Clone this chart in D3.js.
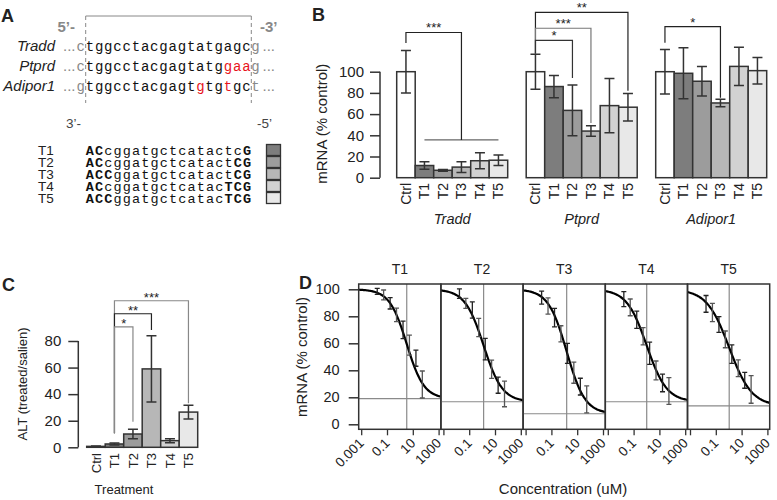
<!DOCTYPE html>
<html><head><meta charset="utf-8">
<script src="https://cdn.jsdelivr.net/npm/d3@7"></script>
<style>
body{margin:0;background:#fff}
text{font-family:"Liberation Sans",Arial,sans-serif;fill:#222}
.mono{font-family:"Liberation Mono","Courier New",monospace}
</style>
</head><body>
<svg id="c" width="777" height="500"></svg>
<script>
// ---------------- DATA ----------------
// Panel A
const seqGenes = ["Tradd", "Ptprd", "Adipor1"];
const seqLeft = ["c", "c", "g"];
const seqRight = ["g", "g", "t"];
const seqCore = [
  [["tggcctacgagtatgagc", 0]],
  [["tggcctacgagtatg", 0], ["gaa", 1]],
  [["tggcctacgagt", 0], ["g", 1], ["tg", 0], ["t", 1], ["gc", 0]]
];
const oligoNames = ["T1", "T2", "T3", "T4", "T5"];
const oligoSeq = [
  [["AC", 1], ["cggatgctcatactc", 0], ["G", 1]],
  [["AC", 1], ["cggatgctcatact", 0], ["CG", 1]],
  [["ACC", 1], ["ggatgctcatact", 0], ["CG", 1]],
  [["AC", 1], ["cggatgctcatac", 0], ["TCG", 1]],
  [["ACC", 1], ["ggatgctcatac", 0], ["TCG", 1]]
];
// Panel B
const genes = ["Tradd", "Ptprd", "Adipor1"];
const groups = ["Ctrl", "T1", "T2", "T3", "T4", "T5"];
const groupFill = ["#ffffff", "#7d7d7d", "#9c9c9c", "#b7b7b7", "#d2d2d2", "#e8e8e8"];
const traddMean = [100, 11.5, 7, 10, 16, 16.5];
const traddErr = [20, 3.5, 0.8, 5, 7.5, 5];
const ptprdMean = [100, 86, 63.5, 44, 68, 66.5];
const ptprdErr = [16.5, 10.5, 24, 5, 25.5, 13];
const adiporMean = [100, 98.5, 91, 70.5, 105, 101];
const adiporErr = [21, 24, 14, 3.5, 18, 12.5];
const bTicks = [0, 20, 40, 60, 80, 100];
// brackets: gene, from, to, level, fromEnd, toEnd, label, colour
const bBrackets = [
  ["Tradd", "Ctrl", "T3", 137, 127, 35.6, "***", "#222"],
  ["Ptprd", "Ctrl", "T5", 156, 117, 82, "**", "#222"],
  ["Ptprd", "Ctrl", "T3", 141, 117, 51.6, "***", "#777"],
  ["Ptprd", "Ctrl", "T2", 129.6, 117, 94, "*", "#333"],
  ["Adipor1", "Ctrl", "T3", 142.5, 127.4, 75.5, "*", "#222"]
];
const traddLine = ["T1", "T5", 35.6];
// Panel C
const altMean = [0.7, 2.5, 10, 59, 5, 26.5];
const altErr = [0.3, 0.7, 3.5, 25, 1.5, 5.2];
const cTicks = [0, 20, 40, 60, 80];
const cBrackets = [
  ["T1", "T5", 110.3, 10.5, 33.1, "***", "#888"],
  ["T1", "T3", 100.5, 10.5, 88.3, "**", "#222"],
  ["T1", "T2", 90.7, 10.5, 19.3, "*", "#888"]
];
// Panel D
const treatments = ["T1", "T2", "T3", "T4", "T5"];
const concentrations = [0.016, 0.05, 0.16, 0.5, 1.6, 5, 16, 50];
const t1Mean = [98.5, 95.8, 89.6, 81, 70, 58.7, 49, 29.5];
const t1Err = [2.2, 3.7, 4.2, 5, 6.5, 7.4, 6, 10];
const t2Mean = [96.8, 89.6, 84.7, 71.7, 55.7, 40.8, 29, 22.5];
const t2Err = [3.5, 3.7, 6, 6.8, 8, 6.8, 6, 9.5];
const t3Mean = [93.8, 87.6, 79, 67, 52.6, 38.2, 27.9, 18.5];
const t3Err = [4.8, 6, 6.8, 6, 7.4, 7.8, 6.2, 10];
const t4Mean = [92.7, 86.6, 77.5, 65.2, 52.6, 39.9, 30.6, 24.7];
const t4Err = [5.6, 6.2, 6.4, 6.4, 8.2, 7, 6.5, 9.9];
const t5Mean = [89.2, 82.8, 73.9, 62.9, 52, 41.5, 32.6, 25.8];
const t5Err = [6.2, 6.8, 5.8, 6.2, 6.8, 6.2, 5.9, 10.2];
const fitTop = [100, 100, 100, 100, 100];
const fitBottom = [19, 16.7, 7.8, 16.7, 13.6];
const fitIC50 = [3.1, 1.2, 1.4, 0.95, 1.0];
const fitHill = [0.65, 0.6, 0.61, 0.56, 0.5];
const dYTicks = [0, 20, 40, 60, 80, 100];
const dXTicks = [0.001, 0.1, 10, 1000];
const dXTickLabels = ["0.001", "0.1", "10", "1000"];

// ---------------- DRAW ----------------
const svg = d3.select("#c");
const ink = "#333";

function panelLetter(t, x, y) {
  svg.append("text").attr("x", x).attr("y", y).attr("font-size", 18)
    .attr("font-weight", "bold").text(t);
}

// ===== Panel A =====
panelLetter("A", 1, 22);
const A = svg.append("g");
const charW = 9.2;
const coreX = 85.7;
A.append("path").attr("d", `M${coreX},16H${coreX + 18 * charW}`).attr("stroke", "#888").attr("fill", "none");
[coreX, coreX + 18 * charW].forEach(x => A.append("line").attr("x1", x).attr("x2", x)
  .attr("y1", 16).attr("y2", 103).attr("stroke", "#888").attr("stroke-dasharray", "4,3"));
A.append("text").attr("x", 75).attr("y", 32).attr("text-anchor", "end").attr("font-size", 15)
  .attr("font-weight", "bold").style("fill", "#888").text("5’-");
A.append("text").attr("x", 260).attr("y", 32).attr("font-size", 15)
  .attr("font-weight", "bold").style("fill", "#888").text("-3’");
const rowY = d3.scalePoint().domain(seqGenes).range([50.5, 91]);
seqGenes.forEach((g, i) => {
  const y = rowY(g);
  A.append("text").attr("x", 55).attr("y", y).attr("text-anchor", "end").attr("font-size", 15)
    .attr("font-style", "italic").text(g);
  A.append("text").attr("x", coreX - charW - 1).attr("y", y).attr("text-anchor", "end")
    .attr("font-size", 15).style("fill", "#888").text("...");
  const t = A.append("text").attr("class", "mono").attr("x", coreX - charW).attr("y", y)
    .attr("font-size", 14).style("letter-spacing", "0.8px");
  t.append("tspan").style("fill", "#888").text(seqLeft[i]);
  seqCore[i].forEach(([s, red]) => t.append("tspan").style("fill", red ? "#e8141b" : "#111").text(s));
  t.append("tspan").style("fill", "#888").text(seqRight[i]);
  A.append("text").attr("x", coreX + 19 * charW + 2).attr("y", y)
    .attr("font-size", 15).style("fill", "#888").text("...");
});
A.append("text").attr("x", 66).attr("y", 128).attr("font-size", 13.5).style("fill", "#444").text("3’-");
A.append("text").attr("x", 257).attr("y", 128).attr("font-size", 13.5).style("fill", "#444").text("-5’");
const oligoY = d3.scalePoint().domain(oligoNames).range([150, 198]);
oligoNames.forEach((n, i) => {
  const y = oligoY(n);
  A.append("text").attr("x", 38).attr("y", y).attr("dy", "0.36em").attr("font-size", 13.5).text(n);
  const t = A.append("text").attr("class", "mono").attr("x", coreX).attr("y", y).attr("dy", "0.36em")
    .attr("font-size", 13.5).style("letter-spacing", "1.15px");
  oligoSeq[i].forEach(([s, b]) => t.append("tspan").attr("font-weight", b ? "bold" : "normal").style("fill", "#111").text(s));
  A.append("rect").attr("x", 266.5).attr("y", y - 5.5).attr("width", 14).attr("height", 11)
    .attr("fill", groupFill[i + 1]).attr("stroke", ink).attr("stroke-width", 1.3);
});

// ===== Panel B =====
panelLetter("B", 312, 21);
const B = svg.append("g");
const yB = d3.scaleLinear().domain([0, 100]).range([177.7, 71.7]);
const geneX = d3.scaleBand().domain(genes).range([396.7, 766.7]).paddingInner(18.5 / 129.5);
const barX = d3.scaleBand().domain(groups).range([0, geneX.bandwidth()]);
const bMeans = [traddMean, ptprdMean, adiporMean];
const bErrs = [traddErr, ptprdErr, adiporErr];
const cx = (g, c) => geneX(g) + barX(c) + barX.bandwidth() / 2;
const axB = B.append("g").attr("transform", "translate(380,0)")
  .call(d3.axisLeft(yB).tickValues(bTicks).tickSize(10).tickPadding(6));
axB.select(".domain").attr("d", `M0,${yB(100)}V${yB(0)}`).attr("stroke", ink).attr("stroke-width", 1.5);
axB.selectAll(".tick line").attr("stroke", ink).attr("stroke-width", 1.5);
axB.selectAll(".tick text").attr("font-size", 15).style("fill", "#222");
B.append("text").attr("transform", `translate(322,${(yB(100) + yB(0)) / 2 - 1}) rotate(-90)`)
  .attr("text-anchor", "middle").attr("dy", "0.35em").attr("font-size", 15).text("mRNA (% control)");
genes.forEach((g, gi) => {
  const gg = B.append("g");
  groups.forEach((c, ci) => {
    const m = bMeans[gi][ci], e = bErrs[gi][ci];
    gg.append("rect").attr("x", geneX(g) + barX(c)).attr("y", yB(m)).attr("width", barX.bandwidth())
      .attr("height", yB(0) - yB(m)).attr("fill", groupFill[ci]).attr("stroke", ink).attr("stroke-width", 1.5);
    const x = cx(g, c);
    gg.append("path").attr("d", `M${x},${yB(m + e)}V${yB(m - e)}M${x - 5},${yB(m + e)}H${x + 5}M${x - 5},${yB(m - e)}H${x + 5}`)
      .attr("stroke", ink).attr("stroke-width", 1.5).attr("fill", "none");
    gg.append("text").attr("transform", `translate(${x},183) rotate(-90)`).attr("text-anchor", "end")
      .attr("dy", "0.36em").attr("font-size", 14).text(c);
  });
  gg.append("text").attr("x", geneX(g) + geneX.bandwidth() / 2).attr("y", 224).attr("text-anchor", "middle")
    .attr("font-size", 14.5).attr("font-style", "italic").text(g);
});
B.append("path").attr("d", `M${cx("Tradd", traddLine[0])},${yB(traddLine[2])}H${cx("Tradd", traddLine[1])}`)
  .attr("stroke", "#666").attr("stroke-width", 1.3);
bBrackets.forEach(([g, a, b, lvl, ea, eb, lab, col]) => {
  const x1 = cx(g, a), x2 = cx(g, b), y = yB(lvl);
  B.append("path").attr("d", `M${x1},${yB(ea)}V${y}H${x2}V${yB(eb)}`).attr("fill", "none")
    .attr("stroke", col).attr("stroke-width", 1.2);
  B.append("text").attr("x", (x1 + x2) / 2).attr("y", y).attr("text-anchor", "middle")
    .attr("font-size", 13).text(lab);
});

// ===== Panel C =====
panelLetter("C", 2, 291);
const C = svg.append("g");
const yC = d3.scaleLinear().domain([0, 80]).range([447.3, 341]);
const xC = d3.scaleBand().domain(groups).range([86.7, 197.7]);
const cxC = c => xC(c) + xC.bandwidth() / 2;
const axC = C.append("g").attr("transform", "translate(78.3,0)")
  .call(d3.axisLeft(yC).tickValues(cTicks).tickSize(10).tickPadding(7));
axC.select(".domain").attr("d", `M0,${yC(80)}V${yC(0)}`).attr("stroke", ink).attr("stroke-width", 1.5);
axC.selectAll(".tick line").attr("stroke", ink).attr("stroke-width", 1.5);
axC.selectAll(".tick text").attr("font-size", 15).style("fill", "#222");
C.append("text").attr("transform", `translate(22,384) rotate(-90)`).attr("text-anchor", "middle")
  .attr("dy", "0.35em").attr("font-size", 13).text("ALT (treated/salien)");
groups.forEach((c, ci) => {
  const m = altMean[ci], e = altErr[ci], x = cxC(c);
  C.append("rect").attr("x", xC(c)).attr("y", yC(m)).attr("width", xC.bandwidth())
    .attr("height", yC(0) - yC(m)).attr("fill", groupFill[ci]).attr("stroke", ink).attr("stroke-width", 1.5);
  C.append("path").attr("d", `M${x},${yC(m + e)}V${yC(m - e)}M${x - 5},${yC(m + e)}H${x + 5}M${x - 5},${yC(m - e)}H${x + 5}`)
    .attr("stroke", ink).attr("stroke-width", 1.5).attr("fill", "none");
  C.append("text").attr("transform", `translate(${x},453) rotate(-90)`).attr("text-anchor", "end")
    .attr("dy", "0.36em").attr("font-size", 13).text(c);
});
C.append("text").attr("x", 124).attr("y", 494).attr("text-anchor", "middle").attr("font-size", 13).text("Treatment");
cBrackets.forEach(([a, b, lvl, ea, eb, lab, col]) => {
  const x1 = cxC(a), x2 = cxC(b), y = yC(lvl);
  C.append("path").attr("d", `M${x1},${yC(ea)}V${y}H${x2}V${yC(eb)}`).attr("fill", "none")
    .attr("stroke", col).attr("stroke-width", 1.2);
  C.append("text").attr("x", (x1 + x2) / 2).attr("y", y + 1).attr("text-anchor", "middle")
    .attr("font-size", 13).text(lab);
});

// ===== Panel D =====
panelLetter("D", 299, 289);
const D = svg.append("g");
const facetX = d3.scaleBand().domain(treatments).range([358.7, 769.7]);
const fw = facetX.bandwidth();
const fTop = 284, fBot = 429.3;
const yD = d3.scaleLinear().domain([0, 100]).range([424.3, 289.3]);
const dMeans = [t1Mean, t2Mean, t3Mean, t4Mean, t5Mean];
const dErrs = [t1Err, t2Err, t3Err, t4Err, t5Err];
const axD = D.append("g").attr("transform", `translate(${facetX("T1")},0)`)
  .call(d3.axisLeft(yD).tickValues(dYTicks).tickSize(10).tickPadding(9));
axD.select(".domain").remove();
axD.selectAll(".tick line").attr("stroke", ink).attr("stroke-width", 1.5);
axD.selectAll(".tick text").attr("font-size", 14.5).style("fill", "#222");
D.append("text").attr("transform", `translate(302,357) rotate(-90)`).attr("text-anchor", "middle")
  .attr("dy", "0.35em").attr("font-size", 15).text("mRNA (% control)");
D.append("text").attr("x", 563).attr("y", 494).attr("text-anchor", "middle").attr("font-size", 15).text("Concentration (uM)");
const defs = svg.append("defs");
treatments.forEach((t, i) => {
  const left = facetX(t);
  const xD = d3.scaleLog().domain([1e-3, 1e3]).range([left + 3, left + 80.4]);
  defs.append("clipPath").attr("id", "clip" + i).append("rect")
    .attr("x", left).attr("y", fTop).attr("width", fw).attr("height", fBot - fTop);
  const g = D.append("g");
  g.append("line").attr("x1", left).attr("x2", left + fw).attr("y1", yD(fitBottom[i])).attr("y2", yD(fitBottom[i]))
    .attr("stroke", "#8a8a8a").attr("stroke-width", 1.2);
  g.append("line").attr("x1", xD(fitIC50[i])).attr("x2", xD(fitIC50[i])).attr("y1", fTop).attr("y2", fBot)
    .attr("stroke", "#8a8a8a").attr("stroke-width", 1.2);
  // fitted 4-parameter logistic model, parameters
  const lo = Math.log10(xD.invert(left)), hi = Math.log10(xD.invert(left + fw));
  const pts = d3.range(0, 101).map(k => {
    const c = Math.pow(10, lo + (hi - lo) * k / 100);
    return [c, fitBottom[i] + (fitTop[i] - fitBottom[i]) / (1 + Math.pow(c / fitIC50[i], fitHill[i]))];
  });
  g.append("path").attr("clip-path", `url(#clip${i})`)
    .attr("d", d3.line().x(d => xD(d[0])).y(d => yD(d[1])).curve(d3.curveBasis)(pts))
    .attr("fill", "none").attr("stroke", "#000").attr("stroke-width", 2.2);
  concentrations.forEach((c, k) => {
    const m = dMeans[i][k], e = dErrs[i][k], x = xD(c);
    g.append("path").attr("d", `M${x},${yD(m + e)}V${yD(m - e)}M${x - 2.5},${yD(m + e)}H${x + 2.5}M${x - 2.5},${yD(m - e)}H${x + 2.5}`)
      .attr("stroke", k % 2 ? "#555" : "#222").attr("stroke-width", 1.3).attr("fill", "none");
  });
  g.append("rect").attr("x", left).attr("y", fTop).attr("width", fw).attr("height", fBot - fTop)
    .attr("fill", "none").attr("stroke", "#333").attr("stroke-width", 1.5);
  g.append("text").attr("x", left + fw / 2).attr("y", 274).attr("text-anchor", "middle").attr("font-size", 14).text(t);
  dXTicks.forEach((v, k) => {
    g.append("line").attr("x1", xD(v)).attr("x2", xD(v)).attr("y1", fBot).attr("y2", fBot + 6)
      .attr("stroke", ink).attr("stroke-width", 1.3);
    if (i === 0 || k > 0) {
      g.append("text").attr("transform", `translate(${xD(v) + 3},444) rotate(-45)`).attr("text-anchor", "end")
        .attr("font-size", 13.5).text(dXTickLabels[k]);
    }
  });
});
svg.selectAll(".tick text").attr("font-family", "Liberation Sans, Arial");
</script>
</body></html>
